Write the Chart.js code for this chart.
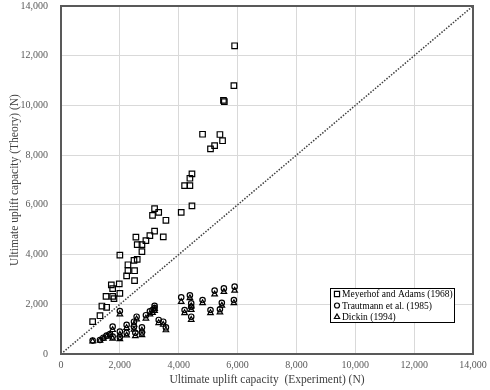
<!DOCTYPE html>
<html>
<head>
<meta charset="utf-8">
<script src="https://cdn.jsdelivr.net/npm/chart.js@4/dist/chart.umd.min.js"></script>
<style>
html,body{margin:0;padding:0;background:#fff;}
#wrap{position:relative;width:490px;height:390px;}
</style>
</head>
<body>
<div id="wrap"><canvas id="c" width="490" height="390"></canvas></div>
<script>
// Meyerhof and Adams (1968): [experiment, theory]
const meyerhofX = [5900,5875,5550,5520,4810,5400,5490,5220,5080,4450,4380,4200,4380,4450,4085,3180,3320,3110,3565,3180,3475,3020,2885,2750,2545,2590,2750,2000,2480,2590,2275,2275,2500,2230,2500,1710,1980,1755,1530,1755,1800,2000,1390,1550,1325,1075];
const meyerhofY = [12400,10800,10150,10200,8840,8830,8580,8380,8250,7250,7070,6770,6770,5960,5700,5850,5700,5580,5380,4940,4710,4760,4560,4400,4700,4400,4120,3980,3770,3810,3590,3350,3350,3140,2950,2780,2820,2630,2320,2320,2230,2440,1930,1880,1540,1300];

// Trautmann et al. (1985)
const trautmannX = [2000,1075,1325,1440,1550,1665,1755,1755,2000,2000,2230,2230,2480,2480,2570,2525,2750,2750,2885,3020,3110,3180,3180,3320,3475,3565,4085,4200,4380,4425,4425,4425,4810,5080,5220,5535,5465,5400,5900,5875];
const trautmannY = [1730,540,565,655,740,805,1100,700,900,680,1170,850,1300,1100,1500,850,1070,860,1560,1720,1770,1940,1850,1370,1300,1070,2280,1770,2360,2040,1900,1500,2170,1770,2550,2640,2060,1800,2710,2170];

// Dickin (1994)
const dickinX = [2000,1075,1325,1440,1550,1665,1755,1755,2000,2000,2230,2230,2480,2480,2570,2525,2750,2750,2885,3020,3110,3180,3180,3320,3475,3565,4085,4200,4380,4425,4425,4425,4810,5080,5220,5535,5465,5400,5900,5875];
const dickinY = [1600,510,540,620,700,770,970,620,780,600,1050,750,1180,980,1400,720,950,760,1430,1600,1660,1820,1740,1250,1180,960,2100,1650,2250,1920,1780,1380,2050,1650,2400,2500,1950,1680,2550,2050];

const axisMin = 0, axisMax = 14000, axisStep = 2000;
const lineXY = [0, 14000];

function pts(xs, ys){ return xs.map((x,i)=>({x:x, y:ys[i]})); }

const SERIF = '"Liberation Serif","Times New Roman",serif';
const TXT = '#595959';

const legendPlugin = {
  id: 'insideLegend',
  afterDraw(chart){
    const ctx = chart.ctx;
    const x0 = 330, y0 = 288, w = 124, h = 34;
    ctx.save();
    ctx.fillStyle = '#fff';
    ctx.fillRect(x0, y0, w, h);
    ctx.strokeStyle = '#000';
    ctx.lineWidth = 1;
    ctx.strokeRect(x0+0.5, y0+0.5, w, h);
    const items = chart.data.datasets.filter(d => d.label);
    ctx.font = '9.5px ' + SERIF;
    ctx.textBaseline = 'middle';
    items.forEach((d, i) => {
      const cy = y0 + 6 + i*11.5;
      const cx = x0 + 7;
      ctx.fillStyle = 'rgba(0,0,0,0)';
      ctx.strokeStyle = '#000';
      ctx.lineWidth = 1.2;
      Chart.helpers.drawPoint(ctx, {pointStyle: d.pointStyle, radius: d.legendRadius, borderWidth: 1.2, rotation: 0}, cx, cy);
      ctx.fillStyle = '#000';
      ctx.fillText(d.label, x0 + 12, cy + 0.5);
    });
    ctx.restore();
  }
};

const borderPlugin = {
  id: 'frame',
  afterDatasetsDraw(chart){
    const a = chart.chartArea, ctx = chart.ctx;
    ctx.save();
    ctx.strokeStyle = '#595959';
    ctx.lineWidth = 2;
    ctx.strokeRect(a.left, a.top, a.right - a.left, a.bottom - a.top);
    ctx.restore();
  }
};

new Chart(document.getElementById('c'), {
  type: 'scatter',
  data: {
    datasets: [
      {
        label: 'Meyerhof and Adams (1968)',
        data: pts(meyerhofX, meyerhofY),
        pointStyle: 'rect', pointRadius: 3.9, legendRadius: 3.6,
        borderColor: '#000', backgroundColor: '#000', pointBackgroundColor: 'rgba(0,0,0,0)', pointBorderColor: '#000', pointBorderWidth: 1.2
      },
      {
        label: 'Trautmann et al. (1985)',
        data: pts(trautmannX, trautmannY),
        pointStyle: 'circle', pointRadius: 2.7, legendRadius: 2.5,
        borderColor: '#000', backgroundColor: '#000', pointBackgroundColor: 'rgba(0,0,0,0)', pointBorderColor: '#000', pointBorderWidth: 1.2
      },
      {
        label: 'Dickin (1994)',
        data: pts(dickinX, dickinY),
        pointStyle: 'triangle', pointRadius: 3.2, legendRadius: 3,
        borderColor: '#000', backgroundColor: '#000', pointBackgroundColor: 'rgba(0,0,0,0)', pointBorderColor: '#000', pointBorderWidth: 1.2
      },
      {
        label: '',
        data: pts(lineXY, lineXY),
        showLine: true, pointRadius: 0, borderColor: '#404040', borderWidth: 1.5, borderDash: [1.5, 1.5], fill: false
      }
    ]
  },
  options: {
    responsive: false,
    animation: false,
    events: [],
    layout: { padding: { left: 4, right: 17, top: 6, bottom: 0 } },
    plugins: { legend: { display: false }, tooltip: { enabled: false } },
    scales: {
      x: {
        type: 'linear', min: axisMin, max: axisMax,
        afterFit: s => { s.height = 36; s.paddingLeft = 0; s.paddingRight = 0; },
        grid: { color: '#d9d9d9', lineWidth: 1, drawTicks: false },
        border: { display: false },
        ticks: { stepSize: axisStep, padding: 5, color: TXT, font: { family: SERIF, size: 10 },
          callback: v => v.toLocaleString('en-US'), maxRotation: 0 },
        title: { display: true, text: 'Ultimate uplift capacity  (Experiment) (N)', color: '#404040',
          font: { family: SERIF, size: 11.5 }, padding: { top: 2, bottom: 3 } }
      },
      y: {
        type: 'linear', min: axisMin, max: axisMax,
        afterFit: s => { s.width = 57; s.paddingTop = 0; s.paddingBottom = 0; },
        grid: { color: '#d9d9d9', lineWidth: 1, drawTicks: false },
        border: { display: false },
        ticks: { stepSize: axisStep, padding: 13, color: TXT, font: { family: SERIF, size: 10 },
          callback: v => v.toLocaleString('en-US') },
        title: { display: true, text: 'Ultimate uplift capacity (Theory) (N)', color: '#404040',
          font: { family: SERIF, size: 11.5 }, padding: { top: 4, bottom: 0 } }
      }
    }
  },
  plugins: [borderPlugin, legendPlugin]
});
</script>
</body>
</html>
